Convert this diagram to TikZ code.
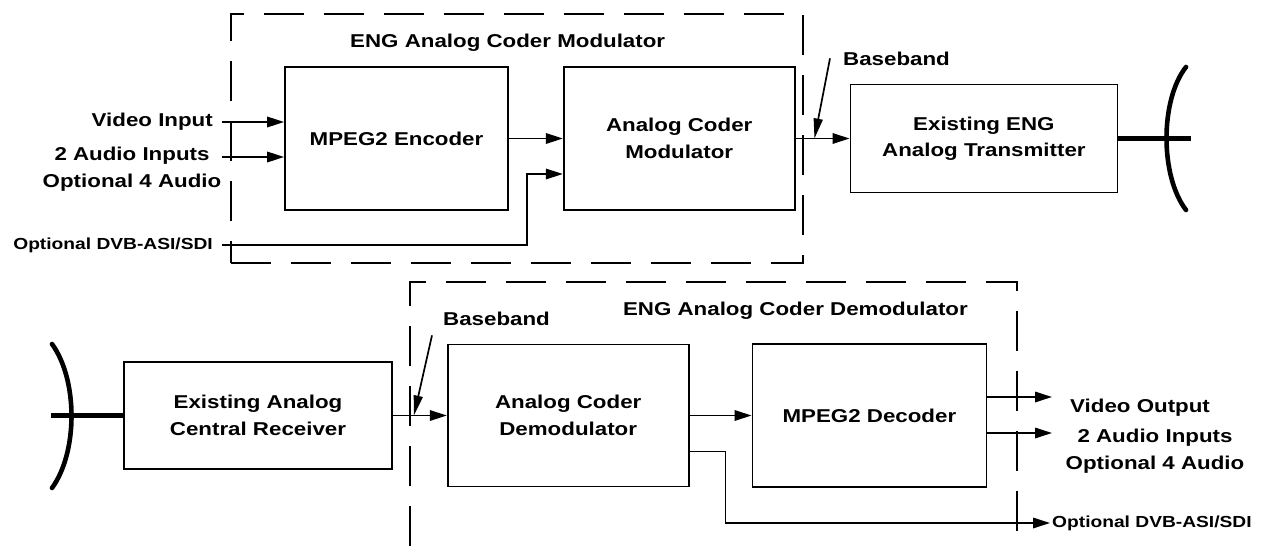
\documentclass[tikz,border=0pt]{standalone}
\usepackage{fontspec}
\setmainfont{Liberation Sans}[FakeStretch=1.2]
\usetikzlibrary{positioning,arrows.meta,calc}

\begin{document}
\begin{tikzpicture}[x=1pt,y=-1pt,
  box/.style={draw,line width=1.7pt,align=center,font=\bfseries\fontsize{18.6}{26.5}\selectfont},
  lab/.style={align=center,inner sep=0pt,font=\bfseries\fontsize{18.6}{26.5}\selectfont},
  small/.style={inner sep=0pt,font=\bfseries\fontsize{16}{19}\selectfont},
  grp/.style={draw,line width=2.8pt,dash pattern=on 40pt off 20pt},
  arr/.style={-{Triangle[length=17pt,width=10.5pt]},line width=1.7pt},
  ptr/.style={-{Triangle[length=20pt,width=9pt]},line width=1.7pt},
  feed/.style={line width=4.6pt},
  dish/.style={line width=4.6pt,line cap=round}]
\useasboundingbox (0,0) rectangle (1264,546);
% transmit side
\node[grp,minimum width=572pt,minimum height=249pt] (mgrp) at (517,138.5) {};
\node[lab,anchor=base west] (mtitle) at (350,47) {ENG Analog Coder Modulator};
\node[box,minimum width=223pt,minimum height=143pt] (enc) at (396.5,138.5) {MPEG2 Encoder};
\node[box,minimum width=231pt,minimum height=143pt,right=54pt of enc] (mod) {Analog Coder\\Modulator};
\node[box,minimum width=267pt,minimum height=108pt,right=54pt of mod] (tx) {Existing ENG\\Analog Transmitter};
\node[lab,anchor=east] (vin) at (213,122) {Video Input};
\node[lab,anchor=north] (ain) at (132,147) {2 Audio Inputs\\Optional 4 Audio};
\node[small,anchor=east] (dvbin) at (213,245) {Optional DVB-ASI/SDI};
\coordinate (vin-a) at (222,122);
\coordinate (ain-a) at (222,157);
\draw[arr] (vin-a) -- (vin-a -| enc.west);
\draw[arr] (ain-a) -- (ain-a -| enc.west);
\draw[arr] ([xshift=9pt]dvbin.east) -| ($(mod.west)+(-36,35.5)$) -- ($(mod.west)+(0,35.5)$);
\draw[arr] (enc) -- (mod);
\draw[arr] (mod) -- (tx);
\coordinate (bb1) at ($(mod.east)!0.35!(tx.west)$);
\node[lab,anchor=base west] (bbtop) at (843,65) {Baseband};
\draw[ptr] ([xshift=-13pt]bbtop.west) -- (bb1);
\draw[feed] (tx.east) -- ++(73,0);
\draw[dish] (1186,67) .. controls (1160,100) and (1160,176) .. (1186,210);
% receive side
\draw[grp] (410,546) |- (1017,282) -- (1017,546);
\node[lab,anchor=base east] (dtitle) at (968,315) {ENG Analog Coder Demodulator};
\node[box,minimum width=268pt,minimum height=107pt] (rx) at (258,415.5) {Existing Analog\\Central Receiver};
\node[box,minimum width=241pt,minimum height=142pt,right=54pt of rx] (dem) {Analog Coder\\Demodulator};
\node[box,minimum width=234pt,minimum height=143pt,right=62pt of dem] (dec) {MPEG2 Decoder};
\draw[feed] (rx.west) -- ++(-72,0);
\draw[dish] (52,344) .. controls (78,380) and (78,452) .. (52,488);
\draw[arr] (rx) -- (dem);
\draw[arr] (dem) -- (dec);
\coordinate (bb2) at ($(rx.east)!0.39!(dem.west)$);
\node[lab,anchor=base west] (bbbot) at (443,325) {Baseband};
\draw[ptr] ([shift={(-11pt,-10pt)}]bbbot.south west) -- (bb2);
\node[lab,anchor=base west] (vout) at (1070,412) {Video Output};
\node[lab,anchor=north] (aout) at (1155,429) {2 Audio Inputs\\Optional 4 Audio};
\node[small,anchor=west] (dvbout) at (1052,523) {Optional DVB-ASI/SDI};
\coordinate (vout-t) at (1052,397);
\coordinate (aout-t) at (1052,433);
\coordinate (dvbout-t) at (1050,523);
\draw[arr] (vout-t -| dec.east) -- (vout-t);
\draw[arr] (aout-t -| dec.east) -- (aout-t);
\draw[arr] ($(dem.east)+(0,36)$) -- ++(36,0) |- (dvbout-t);
\end{tikzpicture}
\end{document}
